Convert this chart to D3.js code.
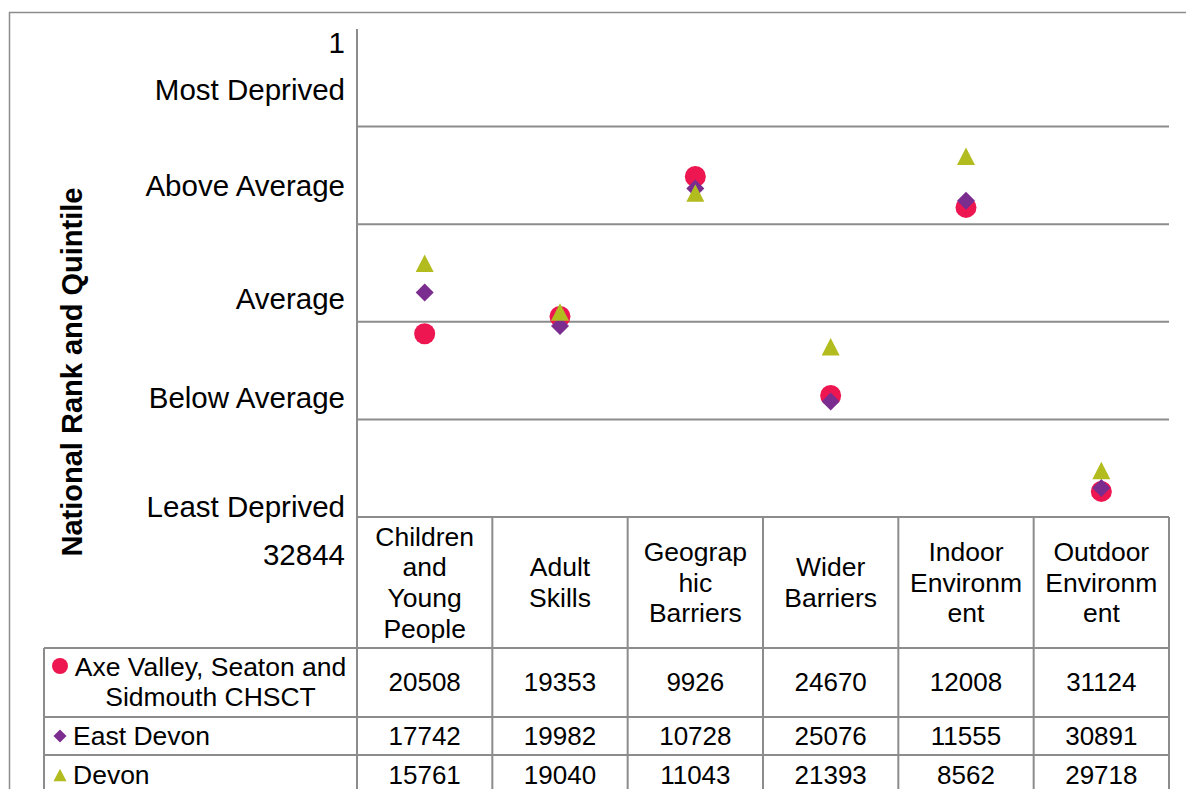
<!DOCTYPE html>
<html>
<head>
<meta charset="utf-8">
<script src="https://cdn.jsdelivr.net/npm/d3@7"></script>
<style>
  body { margin: 0; background: #fff; }
  svg { display: block; font-family: "Liberation Sans", Arial, sans-serif; }
</style>
</head>
<body>
<svg id="chart" width="1186" height="789"></svg>
<script>
// Domains (header lines as shown in the table)
const categories = ["Children and Young People", "Adult Skills", "Geographic Barriers",
  "Wider Barriers", "Indoor Environment", "Outdoor Environment"];
const headerLines = [
  ["Children", "and", "Young", "People"],
  ["Adult", "Skills"],
  ["Geograp", "hic", "Barriers"],
  ["Wider", "Barriers"],
  ["Indoor", "Environm", "ent"],
  ["Outdoor", "Environm", "ent"]
];

// Series values (national rank, 1 = most deprived)
const axeValley = [20508, 19353, 9926, 24670, 12008, 31124];
const eastDevon = [17742, 19982, 10728, 25076, 11555, 30891];
const devon = [15761, 19040, 11043, 21393, 8562, 29718];

const seriesNames = [["Axe Valley, Seaton and", "Sidmouth CHSCT"], ["East Devon"], ["Devon"]];

// Axis labels and the rank each is shown against
const rankMax = 32844;
const quintiles = [1, 2, 3, 4].map((q) => 1 + (rankMax - 1) * q / 5);
const yLabels = ["1", "Most Deprived", "Above Average", "Average", "Below Average", "Least Deprived", "32844"];
const yLabelRanks = [950, 4110, 10570, 18170, 24840, 32170, 35400];

const svg = d3.select("#chart");

const plot = { left: 357, right: 1169, top: 29, bottom: 517 };
const rows = [517, 648, 717, 755, 795];
const legendLeft = 44;
const gridColor = "#8c8c8c";
const headFont = 26.5;
const cellFont = 26;

const x = d3.scaleBand().domain(categories).range([plot.left, plot.right]);
const y = d3.scaleLinear().domain([1, rankMax]).range([plot.top, plot.bottom]);

// marker shapes: square diamond and box-centred triangle
function diamond(w) {
  const h = w / 2;
  return `M0,${-h}L${h},0L0,${h}L${-h},0Z`;
}
function triangle(w, h) {
  return `M0,${-h / 2}L${w / 2},${h / 2}L${-w / 2},${h / 2}Z`;
}
function circle(r) {
  return d3.arc()({ innerRadius: 0, outerRadius: r, startAngle: 0, endAngle: 2 * Math.PI });
}

// outer chart border
svg.append("path")
  .attr("d", `M9.5,800V12.5H1200`)
  .attr("fill", "none")
  .attr("stroke", gridColor)
  .attr("stroke-width", 1.5);

// quintile gridlines
svg.append("g")
  .selectAll("line")
  .data(quintiles)
  .join("line")
  .attr("x1", plot.left)
  .attr("x2", plot.right)
  .attr("y1", (d) => y(d))
  .attr("y2", (d) => y(d))
  .attr("stroke", gridColor)
  .attr("stroke-width", 2);

// y axis line, continues down the table
svg.append("line")
  .attr("x1", plot.left).attr("x2", plot.left)
  .attr("y1", plot.top).attr("y2", rows[4])
  .attr("stroke", gridColor)
  .attr("stroke-width", 2);

// y labels
svg.append("g")
  .selectAll("text")
  .data(yLabels)
  .join("text")
  .attr("x", 345)
  .attr("y", (d, i) => y(yLabelRanks[i]))
  .attr("dy", "0.35em")
  .attr("text-anchor", "end")
  .attr("font-size", 29.5)
  .attr("fill", "#000")
  .text((d) => d);

// y title
svg.append("text")
  .attr("transform", "translate(72,372) rotate(-90)")
  .attr("dy", "0.35em")
  .attr("text-anchor", "middle")
  .attr("font-size", 29)
  .attr("font-weight", "bold")
  .text("National Rank and Quintile");

// data table grid
const table = svg.append("g")
  .attr("stroke", gridColor)
  .attr("stroke-width", 2);

table.append("line")
  .attr("x1", plot.left).attr("x2", plot.right)
  .attr("y1", rows[0]).attr("y2", rows[0]);

table.selectAll(".hrow")
  .data(rows.slice(1, 4))
  .join("line")
  .attr("x1", legendLeft).attr("x2", plot.right)
  .attr("y1", (d) => d).attr("y2", (d) => d);

table.selectAll(".vcol")
  .data(categories)
  .join("line")
  .attr("x1", (d) => x(d) + x.bandwidth())
  .attr("x2", (d) => x(d) + x.bandwidth())
  .attr("y1", rows[0]).attr("y2", rows[4]);

table.append("line")
  .attr("x1", legendLeft).attr("x2", legendLeft)
  .attr("y1", rows[1]).attr("y2", rows[4]);

// header labels
const lineH = 30.7;
const header = svg.append("g")
  .attr("font-size", headFont)
  .attr("text-anchor", "middle");

categories.forEach((c, i) => {
  const lines = headerLines[i];
  const mid = (rows[0] + rows[1]) / 2;
  header.selectAll(null)
    .data(lines)
    .join("text")
    .attr("x", x(c) + x.bandwidth() / 2)
    .attr("y", (d, j) => mid + (j - (lines.length - 1) / 2) * lineH)
    .attr("dy", "0.35em")
    .text((d) => d);
});

const series = [
  { values: axeValley, color: "#ED1651", shape: () => circle(10.5), legendShape: () => circle(8) },
  { values: eastDevon, color: "#7B2C8F", shape: () => diamond(18), legendShape: () => diamond(13) },
  { values: devon, color: "#B3BC1F", shape: () => triangle(18, 17.5), legendShape: () => triangle(13, 12.5) }
];
const rowMid = [682, 736, 775];

// value cells
series.forEach((s, i) => {
  svg.append("g")
    .attr("font-size", cellFont)
    .attr("text-anchor", "middle")
    .selectAll("text")
    .data(s.values)
    .join("text")
    .attr("x", (d, j) => x(categories[j]) + x.bandwidth() / 2)
    .attr("y", rowMid[i])
    .attr("dy", "0.35em")
    .text((d) => d);
});

// legend cells
series.forEach((s, i) => {
  const g = svg.append("g");
  const names = seriesNames[i];
  const markY = names.length > 1 ? 666 : rowMid[i];
  g.append("path")
    .attr("transform", `translate(60,${markY})`)
    .attr("d", s.legendShape())
    .attr("fill", s.color);
  g.selectAll("text")
    .data(names)
    .join("text")
    .attr("x", names.length > 1 ? 210.5 : 73)
    .attr("y", (d, j) => (names.length > 1 ? 667 + j * 30 : rowMid[i]))
    .attr("dy", "0.35em")
    .attr("text-anchor", names.length > 1 ? "middle" : "start")
    .attr("font-size", headFont)
    .text((d) => d);
});

// markers
series.forEach((s) => {
  svg.append("g")
    .selectAll("path")
    .data(s.values)
    .join("path")
    .attr("transform", (d, j) => `translate(${x(categories[j]) + x.bandwidth() / 2},${y(d)})`)
    .attr("d", s.shape())
    .attr("fill", s.color);
});
</script>
</body>
</html>
